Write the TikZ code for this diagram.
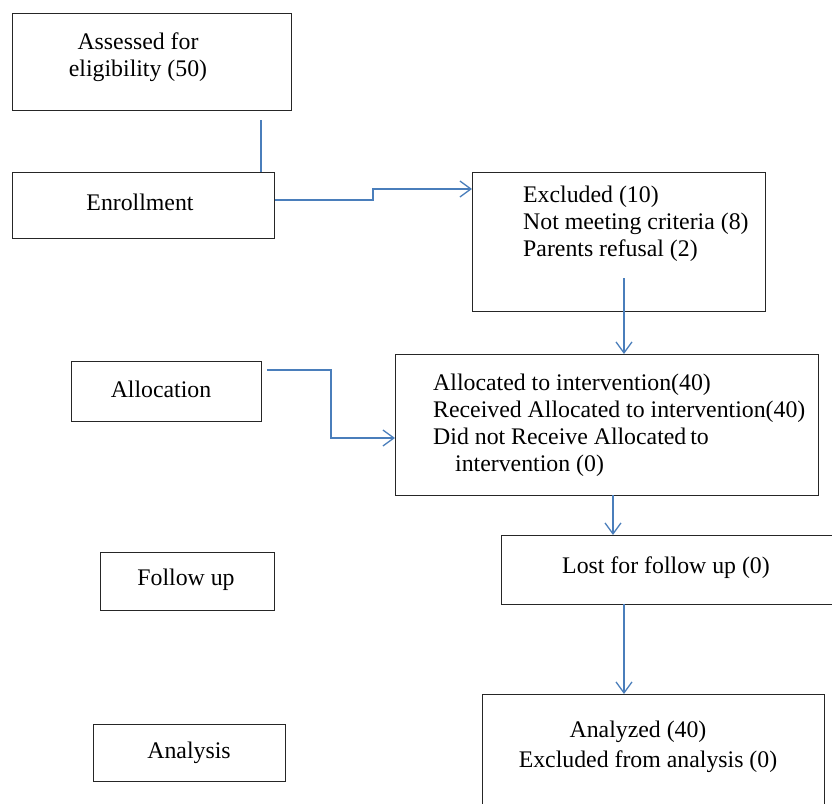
\documentclass[tikz,border=0pt]{standalone}
\usepackage{fontspec}
\setmainfont{Liberation Serif}
\usetikzlibrary{arrows.meta}
\definecolor{connblue}{HTML}{4A7EBB}
\begin{document}
\begin{tikzpicture}[x=1pt,y=-1pt,
  box/.style={draw=black!85,line width=0.9pt,inner sep=0pt,anchor=north west},
  txt/.style={inner sep=0pt,font=\fontsize{23.8}{27}\selectfont},
  conn/.style={draw=connblue,line width=1.3pt},
  arr/.style={conn,-{Straight Barb[length=11pt,width=16pt,line width=1.3pt]}}]
\useasboundingbox (0,0) rectangle (832,803);
\clip (0,0) rectangle (832,803);
% left column boxes
\node[box,minimum width=279pt,minimum height=97pt] (assess) at (12,13) {};
\node[txt,anchor=base] (tassess1) at (138,49) {Assessed for};
\node[txt,anchor=base] (tassess2) at (138,76) {eligibility (50)};
\node[box,minimum width=262pt,minimum height=66pt] (enrol) at (12,172) {};
\node[txt,anchor=base] (tenrol) at (140,210) {Enrollment};
\node[box,minimum width=190pt,minimum height=60pt] (alloc) at (71,361) {};
\node[txt,anchor=base] (talloc) at (161,397) {Allocation};
\node[box,minimum width=174pt,minimum height=58pt] (follow) at (100,552) {};
\node[txt,anchor=base] (tfollow) at (186,585) {Follow up};
\node[box,minimum width=192pt,minimum height=57pt] (analysis) at (93,724) {};
\node[txt,anchor=base] (tanalysis) at (189,758) {Analysis};
% right column boxes
\node[box,minimum width=293pt,minimum height=139pt] (excl) at (472,172) {};
\node[txt,anchor=base west] (texcl1) at (523,202) {Excluded (10)};
\node[txt,anchor=base west] (texcl2) at (523,229) {Not meeting criteria (8)};
\node[txt,anchor=base west] (texcl3) at (523,256) {Parents refusal (2)};
\node[box,minimum width=423pt,minimum height=141pt] (allocd) at (395,354) {};
\node[txt,anchor=base west] (tallocd1) at (433,390) {Allocated to intervention(40)};
\node[txt,anchor=base west] (tallocd2) at (433,417) {Received Allocated to intervention(40)};
\node[txt,anchor=base west] (tallocd3) at (433,444) {Did not Receive Allocated\,to};
\node[txt,anchor=base west] (tallocd4) at (455,471) {intervention (0)};
\node[box,minimum width=345pt,minimum height=69pt] (lost) at (501,535) {};
\node[txt,anchor=base] (tlost) at (666,573) {Lost for follow up (0)};
\node[box,minimum width=342pt,minimum height=125pt] (analyzed) at (482,694) {};
\node[txt,anchor=base] (tanalyzed1) at (638,737) {Analyzed (40)};
\node[txt,anchor=base] (tanalyzed2) at (648,767) {Excluded from analysis (0)};
% connectors
\coordinate (c1) at (261,120);
\draw[conn] (c1) -- (c1 |- enrol.north);
\coordinate (c2a) at (373,200);
\coordinate (c2b) at (373,189);
\draw[arr] (enrol.east |- c2a) -- (c2a) -- (c2b) -- (c2b -| excl.west);
\coordinate (c3) at (624,278);
\draw[arr] (c3) -- (c3 |- allocd.north);
\coordinate (c4a) at (267,370);
\coordinate (c4b) at (331,370);
\coordinate (c4c) at (331,438);
\draw[arr] (c4a) -- (c4b) -- (c4c) -- (c4c -| allocd.west);
\coordinate (c5) at (613,495);
\draw[arr] (c5) -- (c5 |- lost.north);
\coordinate (c6) at (624,604);
\draw[arr] (c6) -- (c6 |- analyzed.north);
\end{tikzpicture}
\end{document}
